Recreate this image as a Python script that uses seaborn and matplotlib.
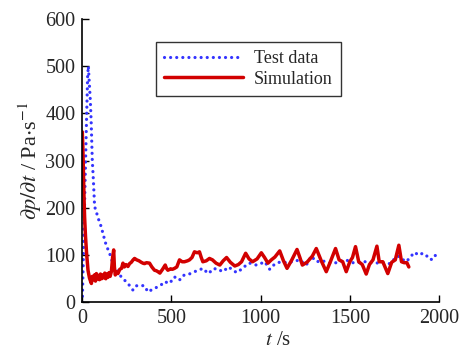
import matplotlib
matplotlib.use("Agg")
import matplotlib.pyplot as plt
import seaborn as sns
import pandas as pd

test_t = [0, 8, 16, 24, 30, 34, 40, 45, 50, 56, 62, 69, 80, 88, 97, 106, 120, 134, 153, 165, 181, 200, 218, 237, 256, 270, 284, 302, 325, 349, 368, 395, 424, 445, 461, 475, 489, 503, 517, 531, 545, 559, 573, 600, 629, 652, 676, 690, 704, 722, 741, 756, 771, 790, 818, 840, 865, 884, 902, 920, 939, 958, 976, 1000, 1023, 1037, 1051, 1070, 1088, 1107, 1126, 1150, 1181, 1200, 1219, 1238, 1256, 1270, 1284, 1298, 1312, 1330, 1349, 1368, 1386, 1405, 1424, 1445, 1462, 1480, 1500, 1518, 1536, 1555, 1573, 1592, 1615, 1640, 1665, 1690, 1710, 1723, 1745, 1769, 1790, 1810, 1826, 1844, 1863, 1886, 1909, 1928, 1947, 1966, 1984, 2000]
test_v = [0, 130, 260, 390, 480, 500, 460, 428, 380, 301, 260, 203, 190, 179, 170, 160, 140, 121, 104, 90, 75, 65, 54, 47, 40, 33, 26, 35, 36, 35, 22, 28, 33, 38, 44, 42, 40, 47, 54, 50, 47, 55, 58, 60, 65, 68, 72, 67, 61, 66, 72, 68, 68, 65, 75, 70, 63, 68, 72, 80, 83, 81, 79, 82, 86, 78, 70, 78, 83, 85, 84, 85, 86, 88, 90, 84, 79, 88, 98, 92, 86, 87, 88, 85, 83, 83, 84, 86, 88, 90, 86, 84, 83, 85, 86, 86, 85, 84, 83, 84, 83, 82, 90, 98, 94, 86, 90, 98, 106, 100, 104, 100, 91, 91, 102, 104]

sim_t = [0, 3, 6, 10, 13, 18, 24, 32, 40, 46, 51, 56, 62, 68, 74, 79, 85, 90, 96, 102, 108, 114, 120, 126, 132, 138, 144, 150, 156, 163, 170, 176, 180, 185, 192, 200, 210, 220, 228, 236, 245, 256, 265, 275, 285, 293, 305, 318, 330, 340, 349, 360, 377, 390, 405, 415, 424, 435, 450, 465, 472, 480, 495, 505, 517, 530, 545, 560, 573, 590, 601, 615, 629, 645, 657, 667, 676, 695, 713, 730, 750, 771, 790, 809, 830, 855, 875, 893, 916, 935, 955, 980, 1004, 1022, 1041, 1060, 1080, 1107, 1128, 1148, 1175, 1204, 1220, 1234, 1260, 1290, 1312, 1340, 1368, 1390, 1420, 1440, 1460, 1480, 1500, 1515, 1532, 1550, 1570, 1592, 1610, 1630, 1652, 1665, 1685, 1713, 1735, 1755, 1775, 1790, 1805, 1820, 1831]
sim_v = [361, 330, 280, 217, 180, 140, 104, 68, 52, 45, 40, 55, 48, 58, 45, 61, 50, 57, 48, 60, 50, 58, 52, 62, 50, 60, 53, 63, 55, 65, 95, 111, 75, 58, 64, 61, 70, 72, 83, 75, 80, 76, 82, 85, 90, 93, 90, 88, 85, 83, 82, 84, 83, 75, 68, 67, 65, 62, 70, 79, 72, 68, 71, 70, 72, 75, 90, 86, 86, 88, 90, 95, 107, 105, 107, 95, 86, 88, 93, 90, 83, 79, 88, 95, 85, 77, 80, 86, 104, 92, 86, 92, 105, 95, 83, 90, 96, 109, 88, 72, 90, 112, 95, 79, 85, 98, 114, 88, 65, 85, 114, 90, 86, 65, 86, 95, 118, 86, 80, 60, 80, 90, 119, 86, 86, 61, 85, 90, 121, 86, 84, 84, 75]

series_names = ["Test data", "Simulation"]
x_ticks = [0, 500, 1000, 1500, 2000]
y_ticks = [0, 100, 200, 300, 400, 500, 600]

sns.set_theme(style="ticks")
plt.rcParams["font.family"] = ["Liberation Serif", "DejaVu Serif"]
plt.rcParams["mathtext.fontset"] = "stix"

fig = plt.figure(figsize=(4.66, 3.52), dpi=100)
ax = fig.add_axes([0.1766, 0.141, 0.7654, 0.805])

df_test = pd.DataFrame({"t": test_t, "v": test_v})
df_sim = pd.DataFrame({"t": sim_t, "v": sim_v})

sns.lineplot(data=df_test, x="t", y="v", ax=ax, color="#3434ff", lw=2.3,
             linestyle=(0, (0.01, 1.9)), dash_capstyle="round",
             label=series_names[0], sort=False, estimator=None)
sns.lineplot(data=df_sim, x="t", y="v", ax=ax, color="#d20000", lw=2.5,
             label=series_names[1], sort=False, estimator=None)

ax.set_xlim(0, 2000)
ax.set_ylim(0, 600)
ax.set_xticks(x_ticks)
ax.set_yticks(y_ticks)
ax.tick_params(direction="in", labelsize=14.5, length=5, width=1, color="black", pad=5)
for s in ["top", "right"]:
    ax.spines[s].set_visible(False)
for s in ["left", "bottom"]:
    ax.spines[s].set_color("black")
    ax.spines[s].set_linewidth(1.2)

ax.set_ylabel(r"$\partial p/\partial t$ / Pa$\cdot$s$^{-1}$", fontsize=16)
ax.yaxis.set_label_coords(-0.108, 0.5)
ax.set_xlabel(r"$t$ /s", fontsize=15)
ax.xaxis.set_label_coords(0.549, -0.1)

leg = ax.legend(loc="upper left", bbox_to_anchor=(0.206, 0.919), borderaxespad=0,
                fontsize=13, handlelength=4.4, fancybox=False, frameon=True,
                labelspacing=0.2, borderpad=0.45, handletextpad=0.6)
leg.get_frame().set_edgecolor("black")
leg.get_frame().set_linewidth(1.0)

fig.savefig("out.png", dpi=100)
